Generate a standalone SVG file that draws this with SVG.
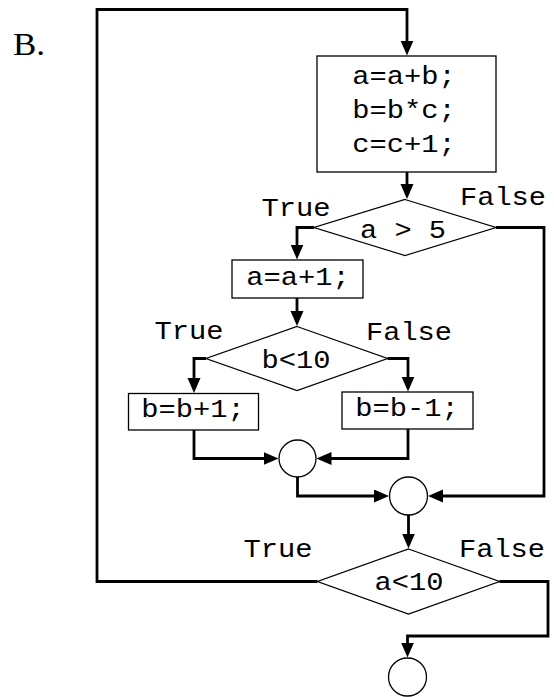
<svg xmlns="http://www.w3.org/2000/svg" width="554" height="697" viewBox="0 0 554 697">
  <style>
    .shape { fill: #fff; stroke: #000; stroke-width: 1.3; }
    .wire { fill: none; stroke: #000; stroke-width: 2.8; stroke-linejoin: miter; }
    .code { font-family: "Liberation Mono", "Courier New", monospace; font-size: 25px; fill: #000; text-anchor: middle; }
    .tag { font-family: "Liberation Serif", "Times New Roman", serif; font-size: 31px; fill: #000; }
  </style>
  <defs>
    <marker id="arrow" markerUnits="userSpaceOnUse" markerWidth="16" markerHeight="14" refX="0.5" refY="6.5" orient="auto">
      <path d="M0,0 L15,6.5 L0,13 z" fill="#000"/>
    </marker>
  </defs>

  <rect width="554" height="697" fill="#fff"/>

  <text class="tag" x="13" y="55" textLength="32" lengthAdjust="spacingAndGlyphs">B.</text>

  <!-- connectors -->
  <g id="connectors">
    <!-- loop back: a<10 True -> top of body -->
    <path class="wire" d="M317.5,581.5 H97 V9.5 H407 V41" marker-end="url(#arrow)"/>
    <!-- body -> a > 5 -->
    <path class="wire" d="M407,172 V184.5" marker-end="url(#arrow)"/>
    <!-- a > 5 True -> a=a+1 -->
    <path class="wire" d="M314,227.5 H297 V245" marker-end="url(#arrow)"/>
    <!-- a=a+1 -> b<10 -->
    <path class="wire" d="M297,298 V311.5" marker-end="url(#arrow)"/>
    <!-- b<10 True -> b=b+1 -->
    <path class="wire" d="M206,358.5 H194 V378.5" marker-end="url(#arrow)"/>
    <!-- b<10 False -> b=b-1 -->
    <path class="wire" d="M387.5,358.5 H408 V377" marker-end="url(#arrow)"/>
    <!-- b=b+1 -> join 1 -->
    <path class="wire" d="M194,430 V458.5 H264" marker-end="url(#arrow)"/>
    <!-- b=b-1 -> join 1 -->
    <path class="wire" d="M408,429 V458.5 H331" marker-end="url(#arrow)"/>
    <!-- join 1 -> join 2 -->
    <path class="wire" d="M297.5,477 V496 H374.5" marker-end="url(#arrow)"/>
    <!-- a > 5 False -> join 2 -->
    <path class="wire" d="M496,227.5 H544 V496 H442.5" marker-end="url(#arrow)"/>
    <!-- join 2 -> a<10 -->
    <path class="wire" d="M408.5,515 V534" marker-end="url(#arrow)"/>
    <!-- a<10 False -> end -->
    <path class="wire" d="M499.5,581.5 H548 V636 H407.5 V643" marker-end="url(#arrow)"/>
  </g>

  <!-- branch labels -->
  <g id="labels">
    <text class="code" x="296" y="216" textLength="69" lengthAdjust="spacingAndGlyphs">True</text>
    <text class="code" x="503" y="205" textLength="86" lengthAdjust="spacingAndGlyphs">False</text>
    <text class="code" x="189" y="339" textLength="69" lengthAdjust="spacingAndGlyphs">True</text>
    <text class="code" x="409" y="340" textLength="86" lengthAdjust="spacingAndGlyphs">False</text>
    <text class="code" x="278" y="557" textLength="69" lengthAdjust="spacingAndGlyphs">True</text>
    <text class="code" x="502" y="557" textLength="86" lengthAdjust="spacingAndGlyphs">False</text>
  </g>

  <g id="body">
    <rect class="shape" x="317" y="56" width="179" height="116"/>
    <text class="code" x="404" y="84" textLength="103.5" lengthAdjust="spacingAndGlyphs">a=a+b;</text>
    <text class="code" x="404" y="118" textLength="103.5" lengthAdjust="spacingAndGlyphs">b=b*c;</text>
    <text class="code" x="404" y="152" textLength="103.5" lengthAdjust="spacingAndGlyphs">c=c+1;</text>
  </g>

  <g id="cond-a-gt-5">
    <polygon class="shape" points="405,199.5 496,227.5 405,255.5 314,227.5"/>
    <text class="code" x="403" y="238" textLength="86" lengthAdjust="spacingAndGlyphs">a &gt; 5</text>
  </g>

  <g id="inc-a">
    <rect class="shape" x="232" y="260" width="131" height="38"/>
    <text class="code" x="298" y="285" textLength="103.5" lengthAdjust="spacingAndGlyphs">a=a+1;</text>
  </g>

  <g id="cond-b-lt-10">
    <polygon class="shape" points="297,326.5 387.5,358.5 297,390.5 206,358.5"/>
    <text class="code" x="296" y="368" textLength="69" lengthAdjust="spacingAndGlyphs">b&lt;10</text>
  </g>

  <g id="inc-b">
    <rect class="shape" x="128.5" y="393.5" width="130" height="36.5"/>
    <text class="code" x="193" y="417" textLength="103.5" lengthAdjust="spacingAndGlyphs">b=b+1;</text>
  </g>

  <g id="dec-b">
    <rect class="shape" x="342" y="392" width="131" height="37"/>
    <text class="code" x="407" y="416" textLength="103.5" lengthAdjust="spacingAndGlyphs">b=b-1;</text>
  </g>

  <g id="join-1">
    <circle class="shape" cx="297.5" cy="458.5" r="18.5"/>
  </g>

  <g id="join-2">
    <circle class="shape" cx="408.5" cy="496" r="19"/>
  </g>

  <g id="cond-a-lt-10">
    <polygon class="shape" points="408.5,549 499.5,581.5 408.5,614 317.5,581.5"/>
    <text class="code" x="409" y="590" textLength="69" lengthAdjust="spacingAndGlyphs">a&lt;10</text>
  </g>

  <g id="end">
    <circle class="shape" cx="407.5" cy="677" r="19"/>
  </g>
</svg>
